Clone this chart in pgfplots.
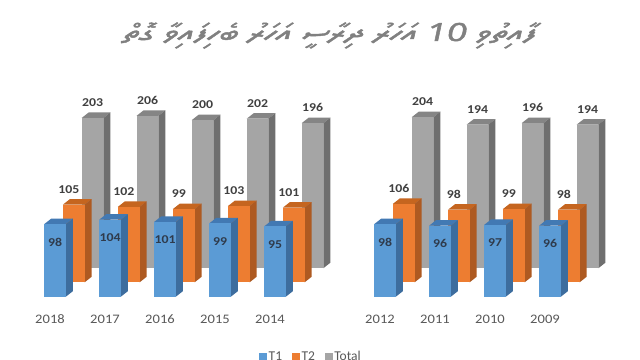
\documentclass[border=0pt]{standalone}
\usepackage{pgfplots}
\pgfplotsset{compat=1.18}
\usepackage{pgfplotstable}
\usepackage{fontspec}
\setmainfont{Carlito}
\TeXXeTstate=1
\IfFontExistsTF{Noto Sans Thaana}{\newfontfamily\thaanafont[Script=Thaana, FakeSlant=0.15, FakeBold=1.5]{Noto Sans Thaana}}{\newfontfamily\thaanafont{DejaVu Sans}}
\definecolor{t1}{HTML}{5B9BD5}
\definecolor{t1side}{HTML}{3D6D9E}
\definecolor{t1top}{HTML}{4279B3}
\definecolor{t2}{HTML}{ED7D31}
\definecolor{t2side}{HTML}{AE5A21}
\definecolor{t2top}{HTML}{C5651F}
\definecolor{tot}{HTML}{A5A5A5}
\definecolor{totside}{HTML}{6F6F6F}
\definecolor{tottop}{HTML}{858585}
\definecolor{titlegray}{HTML}{808080}
\definecolor{yeargray}{HTML}{595959}
\definecolor{labgray}{HTML}{404040}
\definecolor{labblue}{HTML}{2F3B4C}

\pgfplotstableread{
x t1 t2 tot
0 98 105 203
1 104 102 206
2 101 99 200
3 99 103 202
4 95 101 196
6 98 106 204
7 96 98 194
8 97 99 196
9 96 98 194
}\datatable

\newcommand\drawbar[3]{%
  \pgfmathsetmacro\hh{\barv*0.74}%
  \pgfscope
  \pgfpathmoveto{\pgfpoint{-10.85bp}{0bp}}%
  \pgfpathlineto{\pgfpoint{-3.85bp}{5.5bp}}%
  \pgfpathlineto{\pgfpoint{17.85bp}{5.5bp}}%
  \pgfpathlineto{\pgfpoint{10.85bp}{0bp}}%
  \pgfpathclose
  \pgfsetfillcolor{#3}\pgfusepath{fill}%
  \pgfpathmoveto{\pgfpoint{10.85bp}{0bp}}%
  \pgfpathlineto{\pgfpoint{17.85bp}{5.5bp}}%
  \pgfpathlineto{\pgfpoint{17.85bp}{5.5bp-\hh bp}}%
  \pgfpathlineto{\pgfpoint{10.85bp}{-\hh bp}}%
  \pgfpathclose
  \pgfsetfillcolor{#2}\pgfusepath{fill}%
  \pgfpathrectangle{\pgfpoint{-10.85bp}{-\hh bp}}{\pgfpoint{21.7bp}{\hh bp}}%
  \pgfsetfillcolor{#1}\pgfusepath{fill}%
  \endpgfscope
}
\pgfdeclareplotmark{barA}{\drawbar{t1}{t1side}{t1top}}
\pgfdeclareplotmark{barB}{\drawbar{t2}{t2side}{t2top}}
\pgfdeclareplotmark{barC}{\drawbar{tot}{totside}{tottop}}

\begin{document}
\begin{tikzpicture}
\useasboundingbox (0,0) rectangle (640bp,360bp);
\clip (0,0) rectangle (640bp,360bp);
\fill[white] (0,0) rectangle (640bp,360bp);
\node[anchor=base, text=titlegray, xscale=1.42, font=\thaanafont\fontsize{25bp}{28bp}\selectfont] at (329bp,319bp)
  {\beginR ފާއިތުވި \beginL 10\endL{} އަހަރު ދިރާސީ އަހަރު ބެހިފައިވާ ގޮތް\endR};
\begin{axis}[
  at={(55bp,63.3bp)}, anchor=origin,
  x=55bp, y=0.74bp,
  xmin=-1, xmax=10.636, ymin=0, ymax=400,
  axis line style={draw=none}, major tick length=0pt, ytick=\empty,
  xtick={0,1,2,3,4,6,7,8,9},
  xticklabels={2018,2017,2016,2015,2014,2012,2011,2010,2009},
  xticklabel style={anchor=center, yshift=-22.3bp, xshift=-5bp, text=yeargray,
    font=\fontsize{13bp}{15bp}\selectfont, xscale=1.12},
  clip=false,
  /pgf/number format/assume math mode=true,
  legend columns=3,
  legend style={at={(0.486,-0.2037)}, anchor=center, draw=none, fill=none,
    font=\fontsize{13.5bp}{15bp}\selectfont, text=yeargray,
    /tikz/every even column/.append style={column sep=8bp}},
  scatter/@pre marker code/.code={},
  scatter/@post marker code/.code={},
]
\addlegendimage{legend image code/.code={\fill[t1] (0bp,-3.5bp) rectangle (7bp,3.5bp);}}
\addlegendentry{T1}
\addlegendimage{legend image code/.code={\fill[t2] (0bp,-3.5bp) rectangle (7bp,3.5bp);}}
\addlegendentry{T2}
\addlegendimage{legend image code/.code={\fill[tot] (0bp,-3.5bp) rectangle (7bp,3.5bp);}}
\addlegendentry{Total}

\addplot[scatter, only marks, mark=barC, forget plot,
  point meta=\thisrow{tot},
  visualization depends on={\thisrow{tot} \as \barv},
  nodes near coords,
  every node near coord/.append style={anchor=center, yshift=15.5bp, text=labgray,
    font=\bfseries\fontsize{12bp}{14bp}\selectfont, xscale=1.15}]
  table[x expr=\thisrow{x}+0.682, y expr=\thisrow{tot}+38.5] {\datatable};

\addplot[scatter, only marks, mark=barB, forget plot,
  point meta=\thisrow{t2},
  visualization depends on={\thisrow{t2} \as \barv},
  nodes near coords,
  every node near coord/.append style={anchor=center, yshift=15bp, xshift=-5bp, text=labgray,
    font=\bfseries\fontsize{12bp}{14bp}\selectfont, xscale=1.15}]
  table[x expr=\thisrow{x}+0.342, y expr=\thisrow{t2}+19.5] {\datatable};

\addplot[scatter, only marks, mark=barA, forget plot,
  point meta=\thisrow{t1},
  visualization depends on={\thisrow{t1} \as \barv},
  nodes near coords,
  every node near coord/.append style={anchor=center, yshift=-18bp, text=labblue,
    font=\bfseries\fontsize{12bp}{14bp}\selectfont, xscale=1.15}]
  table[x=x, y=t1] {\datatable};
\end{axis}
\end{tikzpicture}
\end{document}
